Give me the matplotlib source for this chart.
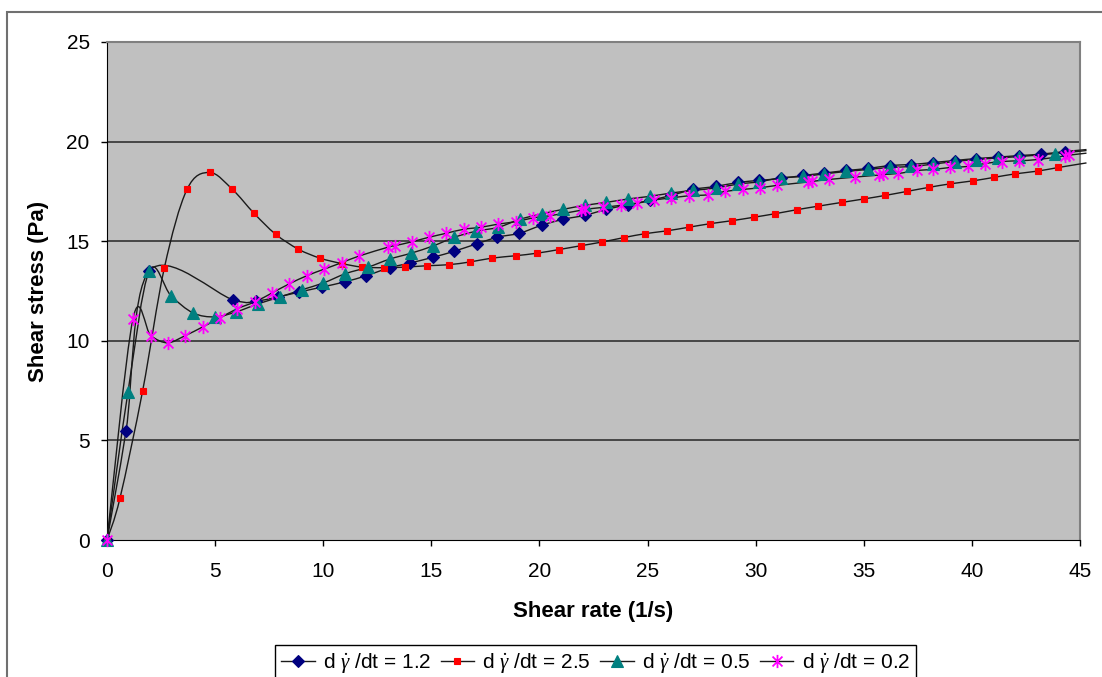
import numpy as np
import matplotlib
matplotlib.use("Agg")
import matplotlib.pyplot as plt
from matplotlib.path import Path
from matplotlib.patches import PathPatch, Rectangle
from matplotlib.lines import Line2D

plt.rcParams['font.family'] = ['Liberation Sans', 'DejaVu Sans']
plt.rcParams['mathtext.fontset'] = 'custom'
plt.rcParams['mathtext.it'] = 'Liberation Serif:italic'
plt.rcParams['mathtext.rm'] = 'Liberation Serif'

# shear ramp d(gamma)/dt = 1.2
x_12 = [0, 0.88, 1.95, 5.85, 6.9, 7.9, 8.9, 9.95, 11.0, 12.0, 13.07, 14.0, 15.1, 16.07,
        17.1, 18.06, 19.07, 20.1, 21.1, 22.1, 23.1, 24.1, 25.1, 26.1, 27.1, 28.15, 29.2,
        30.15, 31.16, 32.2, 33.17, 34.2, 35.2, 36.2, 37.2, 38.2, 39.2, 40.2, 41.2, 42.2,
        43.2, 44.3, 45.3]
y_12 = [0, 5.48, 13.5, 12.05, 12.0, 12.2, 12.45, 12.7, 12.96, 13.27, 13.67, 13.9, 14.2,
        14.5, 14.87, 15.2, 15.4, 15.8, 16.1, 16.3, 16.6, 16.83, 17.05, 17.3, 17.6, 17.75,
        17.95, 18.05, 18.15, 18.3, 18.42, 18.55, 18.65, 18.8, 18.85, 18.95, 19.05, 19.15,
        19.22, 19.3, 19.37, 19.5, 19.6]

# d(gamma)/dt = 2.5
x_25 = [0, 0.6, 1.65, 2.65, 3.7, 4.75, 5.8, 6.8, 7.8, 8.85, 9.85, 10.85, 11.8, 12.8,
        13.8, 14.8, 15.8, 16.8, 17.8, 18.9, 19.9, 20.9, 21.9, 22.9, 23.9, 24.9, 25.9,
        26.9, 27.9, 28.9, 29.9, 30.9, 31.9, 32.9, 34.0, 35.0, 36.0, 37.0, 38.0, 39.0,
        40.05, 41.0, 42.0, 43.05, 44.0, 45.3]
y_25 = [0, 2.1, 7.5, 13.65, 17.6, 18.45, 17.6, 16.4, 15.35, 14.6, 14.15, 13.88, 13.7,
        13.67, 13.7, 13.77, 13.82, 13.96, 14.15, 14.27, 14.4, 14.58, 14.77, 14.96, 15.18,
        15.38, 15.52, 15.7, 15.88, 16.03, 16.2, 16.38, 16.58, 16.76, 16.95, 17.12, 17.3,
        17.5, 17.7, 17.88, 18.03, 18.2, 18.38, 18.52, 18.7, 18.93]

# d(gamma)/dt = 0.5
x_05 = [0, 0.97, 1.95, 2.96, 3.98, 5.0, 5.97, 7.0, 8.0, 9.0, 10.0, 11.03, 12.08, 13.07,
        14.07, 15.1, 16.07, 17.07, 18.1, 19.1, 20.1, 21.1, 22.1, 23.1, 24.1, 25.1, 26.1,
        27.1, 28.15, 29.2, 30.15, 31.16, 32.2, 33.17, 34.2, 35.2, 36.2, 37.2, 38.2, 39.2,
        40.2, 41.2, 42.2, 43.85, 45.3]
y_05 = [0, 7.43, 13.5, 12.26, 11.4, 11.2, 11.45, 11.86, 12.2, 12.56, 12.9, 13.37, 13.7,
        14.1, 14.4, 14.77, 15.2, 15.5, 15.7, 16.1, 16.37, 16.6, 16.8, 16.95, 17.12, 17.25,
        17.42, 17.55, 17.67, 17.87, 17.98, 18.18, 18.25, 18.38, 18.5, 18.6, 18.7, 18.75,
        18.87, 19.0, 19.1, 19.18, 19.25, 19.4, 19.55]

# d(gamma)/dt = 0.2
x_02 = [0, 1.2, 2.03, 2.8, 3.6, 4.43, 5.23, 6.0, 6.85, 7.63, 8.43, 9.25, 10.05, 10.85,
        11.67, 13.0, 13.3, 14.1, 14.9, 15.7, 16.5, 17.3, 18.1, 18.9, 19.7, 20.5, 21.9,
        22.1, 22.96, 23.75, 24.5, 25.3, 26.1, 26.9, 27.8, 28.6, 29.4, 30.2, 30.97, 32.4,
        32.6, 33.4, 34.6, 35.7, 35.9, 36.6, 37.45, 38.2, 39.0, 39.8, 40.6, 41.4, 42.2,
        43.05, 44.3, 44.5, 45.3]
y_02 = [0, 11.1, 10.25, 9.9, 10.25, 10.7, 11.15, 11.6, 11.96, 12.4, 12.86, 13.27, 13.6,
        13.92, 14.26, 14.7, 14.77, 14.97, 15.2, 15.4, 15.6, 15.7, 15.86, 15.98, 16.17,
        16.28, 16.55, 16.6, 16.7, 16.8, 16.9, 17.07, 17.17, 17.28, 17.33, 17.5, 17.6,
        17.68, 17.8, 17.97, 18.0, 18.1, 18.22, 18.32, 18.35, 18.4, 18.55, 18.6, 18.7,
        18.75, 18.9, 19.0, 19.04, 19.1, 19.28, 19.32, 19.42]

labels = [r'd $\dot{\gamma}$ /dt = 1.2', r'd $\dot{\gamma}$ /dt = 2.5',
          r'd $\dot{\gamma}$ /dt = 0.5', r'd $\dot{\gamma}$ /dt = 0.2']

# asterisk: vertical bar + X
star = Path([(0, -1), (0, 1), (-0.75, -0.75), (0.75, 0.75), (-0.75, 0.75), (0.75, -0.75)],
            [Path.MOVETO, Path.LINETO, Path.MOVETO, Path.LINETO, Path.MOVETO, Path.LINETO])

styles = [
    dict(marker='D', ms=6, mfc='#000080', mec='#000080', mew=0.8),
    dict(marker='s', ms=5, mfc='#FF0000', mec='#FF0000', mew=0.8),
    dict(marker='^', ms=8, mfc='#008080', mec='#008080', mew=0.8),
    dict(marker=star, ms=9.5, mfc='none', mec='#FF00FF', mew=1.3),
]


def smooth_path(x, y):
    # cubic bezier through every point (catmull-rom tangents)
    pts = np.column_stack([x, y]).astype(float)
    n = len(pts)
    verts = [pts[0]]
    codes = [Path.MOVETO]
    for i in range(n - 1):
        p0 = pts[max(i - 1, 0)]
        p1 = pts[i]
        p2 = pts[i + 1]
        p3 = pts[min(i + 2, n - 1)]
        verts += [p1 + (p2 - p0) / 6.0, p2 - (p3 - p1) / 6.0, p2]
        codes += [Path.CURVE4] * 3
    return Path(verts, codes)


fig = plt.figure(figsize=(11.02, 6.77), dpi=100)
fig.patch.set_facecolor('white')
fig.patches.append(Rectangle((7 / 1102, -0.2), 1.2, 1.2 - 12 / 677,
                             transform=fig.transFigure, fill=False,
                             edgecolor='#707070', lw=1.5, zorder=0))

ax = fig.add_axes([107 / 1102, 137 / 677, 973 / 1102, 498 / 677])
ax.set_facecolor('#C0C0C0')
ax.set_xlim(0, 45)
ax.set_ylim(0, 25)
ax.set_xticks(range(0, 46, 5))
ax.set_yticks(range(0, 26, 5))
for yv in [5, 10, 15, 20]:
    ax.axhline(yv, color='#262626', lw=1.1, zorder=1)
ax.spines['left'].set_color('black')
ax.spines['bottom'].set_color('black')
ax.spines['top'].set_color('#808080')
ax.spines['right'].set_color('#808080')
ax.spines['top'].set_linewidth(1.5)
ax.spines['right'].set_linewidth(1.5)
ax.tick_params(axis='both', direction='out', length=4.5, width=1, labelsize=15)
ax.tick_params(axis='x', pad=11)
ax.tick_params(axis='y', pad=8)

series = [(x_12, y_12), (x_25, y_25), (x_05, y_05), (x_02, y_02)]
handles = []
for (xs, ys), st, lab in zip(series, styles, labels):
    patch = PathPatch(smooth_path(xs, ys), fill=False, edgecolor='#1a1a1a', lw=1.0,
                      transform=ax.transData, clip_on=False, zorder=3)
    ax.add_patch(patch)
    # last point only continues the line past the axis edge
    ax.plot(xs[:-1], ys[:-1], ls='none', zorder=4, clip_on=False, **st)
    handles.append(Line2D([], [], color='#1a1a1a', lw=1.0, **st))

ax.text(0.5, (540 - 612) / 498, 'Shear rate (1/s)', transform=ax.transAxes,
        ha='center', va='center', fontsize=16, fontweight='bold')
ax.text((39 - 107) / 973, 0.5, 'Shear stress (Pa)', transform=ax.transAxes,
        ha='center', va='center', rotation=90, fontsize=16, fontweight='bold')

leg = fig.legend(handles, labels, loc='upper left', ncol=4,
                 bbox_to_anchor=(275 / 1102, 1 - 645 / 677), borderaxespad=0,
                 fontsize=15, frameon=True, fancybox=False, framealpha=1,
                 edgecolor='black', handlelength=1.6, handletextpad=0.4,
                 columnspacing=0.45, borderpad=0.3)
leg.get_frame().set_linewidth(1.0)

fig.savefig('out.png', dpi=100)
